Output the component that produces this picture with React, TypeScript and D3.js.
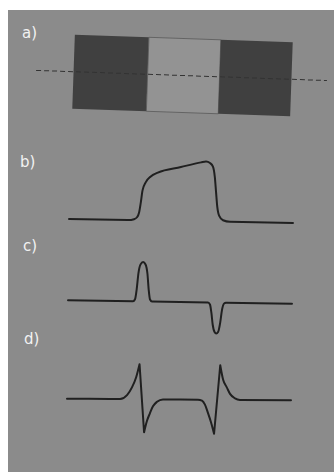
import * as d3 from "d3";
import React, { useEffect, useRef } from "react";

// a) bar made of three cells, boundaries as fraction of the bar length
const cellNames = ["dark", "light", "dark"];
const cellEdges = [0, 0.34, 0.67, 1];

// b) signal profile along the line
const bX = [69, 128, 134, 137, 139, 140.5, 142, 145, 150, 157, 180, 200, 205, 209, 212, 214, 215.5, 217, 219, 223, 230, 293];
const bY = [0, 0, 1, 3, 8, 18, 30, 38, 44, 48, 54, 59, 60, 58.5, 55, 45, 30, 15, 6, 1.5, 0, 0];

// c) first derivative
const cX = [68, 133, 135, 136.5, 138, 140, 142.5, 145, 147, 148.5, 150, 152, 208, 210, 211.5, 213, 215, 216.7, 218.5, 220.5, 222, 224, 226, 292];
const cY = [0, 0, 2, 12, 28, 37, 39.5, 37, 28, 12, 2, 0, 0, -2, -10, -22, -29.5, -31, -29.5, -20, -8, -1, 0, 0];

// d) second derivative (cusps at the listed x)
const dX = [67, 110, 120, 127, 132, 136, 139.3, 144.3, 147, 150, 153, 157, 163, 198, 202, 205, 208.3, 211, 214.3, 220, 223, 226.7, 230, 235, 240, 291];
const dY = [0, 0, 0, 4, 12, 22, 35, -33, -22, -14, -7, -2.5, 0, 0, -1, -5, -14, -22, -34, 34.5, 20, 12.5, 6, 1.5, 0, 0];
const dCusps = [139.3, 144.3, 214.3, 220];

const labels = ["a)", "b)", "c)", "d)"];

const W = 334;
const H = 472;

const App: React.FC = () => {
  const ref = useRef<SVGSVGElement>(null);

  useEffect(() => {
    const svg = d3.select(ref.current);
    svg.selectAll("*").remove();

    svg.append("rect").attr("width", W).attr("height", H).attr("fill", "#ffffff");
    svg.append("rect").attr("x", 8).attr("y", 10).attr("width", W - 8).attr("height", H - 10).attr("fill", "#8b8b8b");

    // panel a
    const cx = 182.5;
    const cy = 75.5;
    const ga = svg.append("g").attr("transform", `rotate(2 ${cx} ${cy})`);
    const xa = d3.scaleLinear().domain([0, 1]).range([73.5, 291.5]);
    ga.selectAll("rect.cell")
      .data(cellNames)
      .join("rect")
      .attr("class", "cell")
      .attr("x", (_, i) => xa(cellEdges[i]))
      .attr("y", cy - 37)
      .attr("width", (_, i) => xa(cellEdges[i + 1]) - xa(cellEdges[i]))
      .attr("height", 74)
      .attr("fill", (d) => (d === "dark" ? "#404040" : "#939393"))
      .attr("stroke", (d) => (d === "dark" ? "none" : "#5a5a5a"))
      .attr("stroke-width", 0.8);
    ga.append("line")
      .attr("x1", cx - 146.5)
      .attr("x2", cx + 144.5)
      .attr("y1", cy)
      .attr("y2", cy)
      .attr("stroke", "#333")
      .attr("stroke-width", 1)
      .attr("stroke-dasharray", "5,3");

    // curves
    const panels = [
      { xs: bX, ys: bY, cusps: [] as number[], base: 221, rot: 1.0 },
      { xs: cX, ys: cY, cusps: [] as number[], base: 302, rot: 0.85 },
      { xs: dX, ys: dY, cusps: dCusps, base: 399.5, rot: 0.4 },
    ];
    const x = d3.scaleLinear().domain([0, 334]).range([0, 334]);
    panels.forEach((p) => {
      const y = d3.scaleLinear().domain([0, 60]).range([p.base, p.base - 60]);
      const pts = p.xs.map((v, i) => [v, p.ys[i]] as [number, number]);
      const line = d3
        .line<[number, number]>()
        .x((d) => x(d[0]))
        .y((d) => y(d[1]))
        .curve(d3.curveMonotoneX);
      // split at cusps so the tips stay sharp
      const segs: [number, number][][] = [];
      let cur: [number, number][] = [];
      pts.forEach((pt) => {
        cur.push(pt);
        if (p.cusps.includes(pt[0])) {
          segs.push(cur);
          cur = [pt];
        }
      });
      segs.push(cur);
      const d = segs.map((s) => line(s)).join("");
      svg
        .append("path")
        .attr("transform", `rotate(${p.rot} 180 ${p.base})`)
        .attr("d", d)
        .attr("fill", "none")
        .attr("stroke", "#202020")
        .attr("stroke-width", 2)
        .attr("stroke-linecap", "round")
        .attr("stroke-linejoin", "round");
    });

    const labelPos = [
      [22, 38],
      [20, 167],
      [23, 251],
      [24, 344],
    ];
    svg
      .selectAll("text.lab")
      .data(labels)
      .join("text")
      .attr("class", "lab")
      .attr("x", (_, i) => labelPos[i][0])
      .attr("y", (_, i) => labelPos[i][1])
      .attr("fill", "#f2f2f2")
      .attr("font-family", "DejaVu Sans, sans-serif")
      .attr("font-size", 15)
      .text((d) => d);
  }, []);

  return <svg ref={ref} width={W} height={H} style={{ position: "absolute", left: 0, top: 0 }} />;
};

export default App;
